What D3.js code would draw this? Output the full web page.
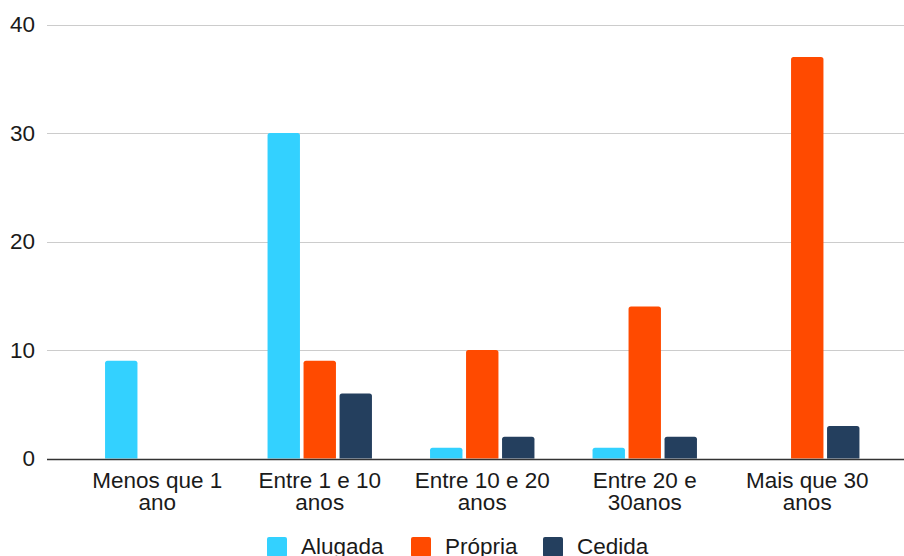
<!DOCTYPE html>
<html>
<head>
<meta charset="utf-8">
<script src="https://cdn.jsdelivr.net/npm/d3@7"></script>
<style>
  html, body { margin: 0; padding: 0; background: #fff; }
  svg { display: block; font-family: "Liberation Sans", Arial, sans-serif; }
</style>
</head>
<body>
<svg id="chart" width="904" height="556"></svg>
<script>
const categories = ["Menos que 1 ano", "Entre 1 e 10 anos", "Entre 10 e 20 anos", "Entre 20 e 30anos", "Mais que 30 anos"];
const categoryLines = [["Menos que 1", "ano"], ["Entre 1 e 10", "anos"], ["Entre 10 e 20", "anos"], ["Entre 20 e", "30anos"], ["Mais que 30", "anos"]];
const seriesNames = ["Alugada", "Própria", "Cedida"];
const alugada = [9, 30, 1, 1, 0];
const propria = [0, 9, 10, 14, 37];
const cedida = [0, 6, 2, 2, 3];
const yTicks = [0, 10, 20, 30, 40];
const colors = ["#33D1FF", "#FF4A00", "#243F5E"];

const seriesValues = [alugada, propria, cedida];

const svg = d3.select("#chart");
const plotLeft = 47, plotRight = 904;
const fontSize = 22.5;
const y = d3.scaleLinear().domain([0, 40]).range([458.5, 24.5]);
const x0 = d3.scaleBand().domain(categories).range([76, 888.5]).padding(0);
const x1 = d3.scaleBand().domain(seriesNames).range([-54, 54]).paddingInner(0.1).paddingOuter(0.05);

// gridlines
svg.append("g").selectAll("line").data(yTicks.filter(t => t !== 0)).join("line")
  .attr("x1", plotLeft).attr("x2", plotRight)
  .attr("y1", d => Math.round(y(d)) + 0.5).attr("y2", d => Math.round(y(d)) + 0.5)
  .attr("stroke", "#cccccc").attr("stroke-width", 1);

// y tick labels
svg.append("g").selectAll("text").data(yTicks).join("text")
  .attr("x", 35).attr("y", d => y(d))
  .attr("text-anchor", "end").attr("dominant-baseline", "central")
  .attr("font-size", fontSize).attr("fill", "#1a1a1a")
  .text(d => d);

// bars
function barPath(x, yTop, w, yBase, r) {
  const h = yBase - yTop;
  r = Math.min(r, h / 2, w / 2);
  return `M${x},${yBase} L${x},${yTop + r} Q${x},${yTop} ${x + r},${yTop} L${x + w - r},${yTop} Q${x + w},${yTop} ${x + w},${yTop + r} L${x + w},${yBase} Z`;
}
const barData = [];
categories.forEach((c, i) => {
  seriesNames.forEach((s, j) => {
    const v = seriesValues[j][i];
    if (v > 0) barData.push({ c, s, v, color: colors[j] });
  });
});
svg.append("g").selectAll("path").data(barData).join("path")
  .attr("d", d => barPath(x0(d.c) + x0.bandwidth() / 2 + x1(d.s), y(d.v), x1.bandwidth(), y(0), 2.5))
  .attr("fill", d => d.color);

// baseline
svg.append("line").attr("x1", plotLeft).attr("x2", plotRight)
  .attr("y1", Math.round(y(0)) + 0.5).attr("y2", Math.round(y(0)) + 0.5)
  .attr("stroke", "#333").attr("stroke-width", 1.5);

// x labels
const xl = svg.append("g").selectAll("text").data(categories).join("text")
  .attr("x", d => x0(d) + x0.bandwidth() / 2)
  .attr("text-anchor", "middle").attr("font-size", fontSize).attr("fill", "#1a1a1a");
xl.each(function(d, i) {
  const t = d3.select(this);
  categoryLines[i].forEach((ln, k) => {
    t.append("tspan").attr("x", x0(d) + x0.bandwidth() / 2).attr("y", 488 + k * 22).text(ln);
  });
});

// legend
const legendX = [267, 411, 543];
const lg = svg.append("g").selectAll("g").data(seriesNames).join("g")
  .attr("transform", (d, i) => `translate(${legendX[i]},537)`);
lg.append("rect").attr("width", 20).attr("height", 20).attr("rx", 2).attr("fill", (d, i) => colors[i]);
lg.append("text").attr("x", 34).attr("y", 16.5).attr("font-size", fontSize).attr("fill", "#1a1a1a").text(d => d);
</script>
</body>
</html>
